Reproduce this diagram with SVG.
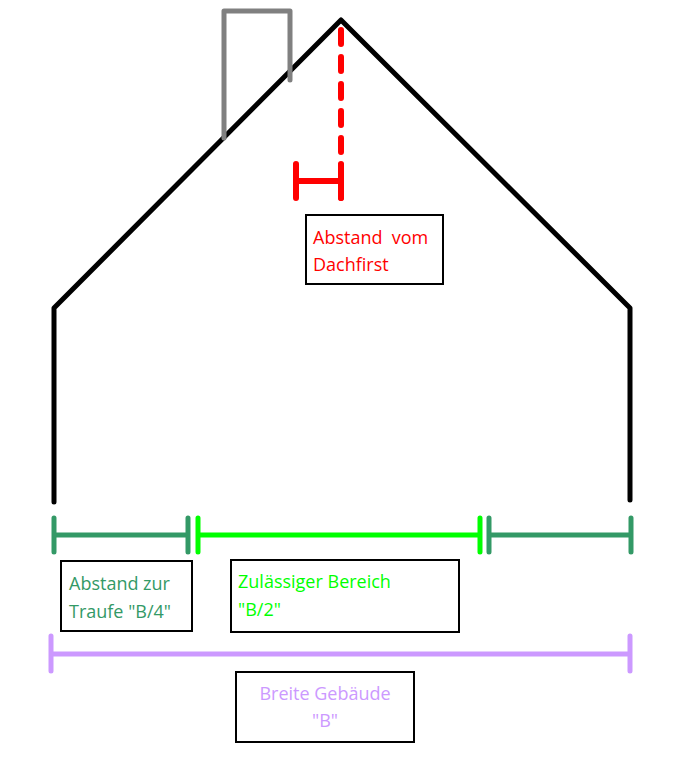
<svg xmlns="http://www.w3.org/2000/svg" width="680" height="768" viewBox="0 0 680 768">
<style>
.l{fill:none;stroke-linecap:round;stroke-linejoin:round}
.box{fill:#fff;stroke:#000;stroke-width:2}
text{font-family:"Open Sans","Liberation Sans",sans-serif;font-size:18px}
.dg{stroke:#339966;stroke-width:5}
.lg{stroke:#00ff00;stroke-width:5}
.pu{stroke:#cc99ff;stroke-width:5}
</style>
<rect width="680" height="768" fill="#fff"/>
<g id="house">
<polyline class="l" points="54,502 54,308 341,20 630,308 630,500" stroke="#000" stroke-width="5"/>
</g>
<g id="chimney">
<polyline class="l" points="224,138 224,11 290,11 290,80" stroke="#808080" stroke-width="5"/>
</g>
<g id="connectors">
<line class="l" x1="341" y1="30" x2="341" y2="198" stroke="#ff0000" stroke-width="6" stroke-dasharray="14,13"/>
<path class="l" d="M296,164V198M296,181H341M341,164V198" stroke="#ff0000" stroke-width="6"/>
<path class="l dg" d="M54,518V552M54,535H188M188,518V552"/>
<path class="l lg" d="M198,518V552M198,535H480M480,518V552"/>
<path class="l dg" d="M489,518V552M489,535H631M631,518V552"/>
<path class="l pu" d="M51,636V671M51,654H630M630,636V671"/>
</g>
<g id="label-dachfirst">
<rect class="box" x="306" y="215" width="137" height="69"/>
<text x="313" y="244" fill="#ff0000" xml:space="preserve">Abstand  vom</text>
<text x="313" y="271" fill="#ff0000">Dachfirst</text>
</g>
<g id="label-traufe">
<rect class="box" x="61" y="561" width="131" height="70"/>
<text x="69" y="590" fill="#339966">Abstand zur</text>
<text x="69" y="618" fill="#339966">Traufe "B/4"</text>
</g>
<g id="label-bereich">
<rect class="box" x="231" y="560" width="228" height="72"/>
<text x="238" y="588" fill="#00ff00">Zulässiger Bereich</text>
<text x="238" y="616" fill="#00ff00">"B/2"</text>
</g>
<g id="label-breite">
<rect class="box" x="236" y="672" width="178" height="70"/>
<text x="325" y="700" fill="#cc99ff" text-anchor="middle">Breite Gebäude</text>
<text x="325" y="727" fill="#cc99ff" text-anchor="middle">"B"</text>
</g>
</svg>
